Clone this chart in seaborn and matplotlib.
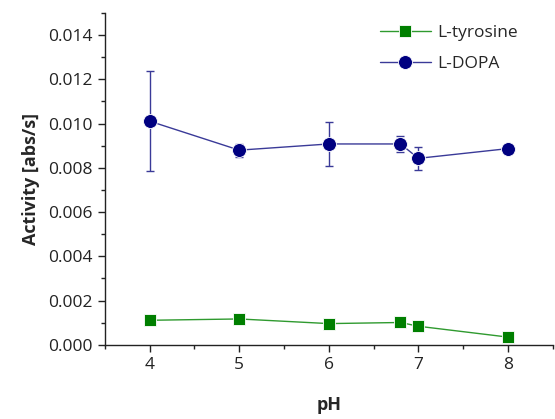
import matplotlib
matplotlib.use("Agg")
import matplotlib.pyplot as plt
import seaborn as sns
import pandas as pd
from matplotlib.ticker import MultipleLocator

ph = [4, 5, 6, 6.8, 7, 8]
tyrosine = [0.00111, 0.00117, 0.00096, 0.00101, 0.00084, 0.00035]
dopa = [0.01011, 0.00880, 0.00908, 0.00908, 0.00843, 0.00887]
dopa_err = [0.00226, 0.00030, 0.00100, 0.00036, 0.00053, 0.0]

sns.set_style("ticks")
plt.rcParams['font.family'] = ['Open Sans', 'DejaVu Sans']

fig = plt.figure(figsize=(5.55, 4.19), dpi=100)
ax = fig.add_axes([0.189, 0.177, 0.807, 0.792])

df_t = pd.DataFrame({"pH": ph, "val": tyrosine})
df_d = pd.DataFrame({"pH": ph, "val": dopa})

ax.errorbar(ph, dopa, yerr=dopa_err, fmt='none', ecolor='#3a3a98', elinewidth=1.0,
            capsize=3, capthick=1.0, zorder=2)
sns.lineplot(data=df_t, x="pH", y="val", ax=ax, color='#2f9a2f', lw=1.0,
             marker='s', markersize=8, markerfacecolor='#007f00',
             markeredgecolor='#ffffff', markeredgewidth=0.6, label='L-tyrosine', zorder=3)
sns.lineplot(data=df_d, x="pH", y="val", ax=ax, color='#3a3a98', lw=1.0,
             marker='o', markersize=10, markerfacecolor='#000080',
             markeredgecolor='#ffffff', markeredgewidth=0.6, label='L-DOPA', zorder=3)

ax.set_xlim(3.5, 8.5)
ax.set_ylim(0, 0.015)
ax.xaxis.set_major_locator(MultipleLocator(1))
ax.xaxis.set_minor_locator(MultipleLocator(0.5))
ax.yaxis.set_major_locator(MultipleLocator(0.002))
ax.yaxis.set_minor_locator(MultipleLocator(0.001))
ax.yaxis.set_major_formatter(matplotlib.ticker.FormatStrFormatter('%.3f'))
ax.tick_params(axis='both', which='major', direction='out', length=5, width=1,
               labelsize=12.5, color='#222222', labelcolor='#222222')
ax.tick_params(axis='both', which='minor', direction='out', length=3, width=1, color='#222222')
for s in ['top', 'right']:
    ax.spines[s].set_visible(False)
for s in ['left', 'bottom']:
    ax.spines[s].set_linewidth(1.0)
    ax.spines[s].set_color('#222222')

ax.set_xlabel('pH', fontsize=13, fontweight='bold', labelpad=17)
ax.set_ylabel('Activity [abs/s]', fontsize=13, fontweight='bold', labelpad=6)

leg = ax.legend(loc='upper right', frameon=False, fontsize=12.5, handlelength=2.9,
                bbox_to_anchor=(0.95, 1.0), borderaxespad=0.3, labelspacing=0.85,
                handletextpad=0.4)

fig.savefig('out.png', dpi=100)
